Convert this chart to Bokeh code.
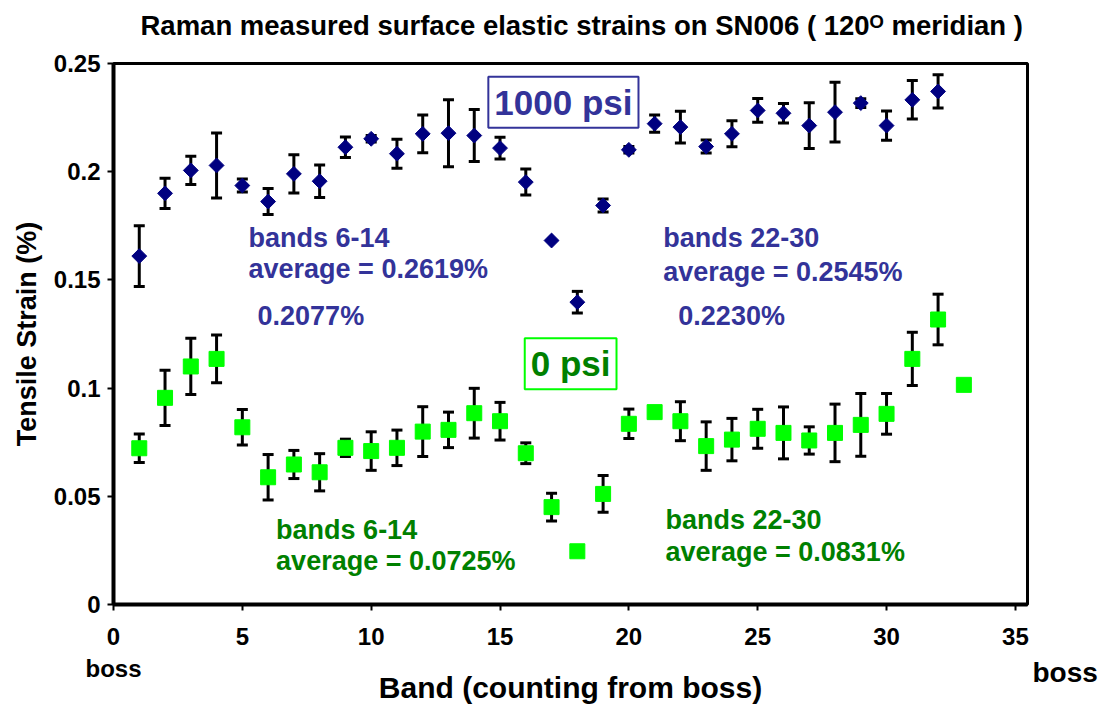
import math
from bokeh.plotting import figure
from bokeh.models import ColumnDataSource, Whisker, TeeHead, Label, FixedTicker, Range1d, LinearAxis
from bokeh.embed import file_html
from bokeh.resources import INLINE

# ---------------- data ----------------
bands_1000 = list(range(1, 33))
strain_1000 = [0.161, 0.190, 0.2006, 0.2029, 0.1936, 0.1862, 0.1990, 0.1956, 0.2113, 0.2152,
               0.2083, 0.2175, 0.2178, 0.2167, 0.2109, 0.1952, 0.1682, 0.1397, 0.1844, 0.2101,
               0.2222, 0.2206, 0.2116, 0.2175, 0.2283, 0.2270, 0.2213, 0.2275, 0.2317, 0.2213,
               0.2332, 0.2371]
err_1000 = [0.014, 0.007, 0.0065, 0.015, 0.003, 0.006, 0.0088, 0.0075, 0.0047, 0.0015,
            0.0067, 0.0087, 0.0155, 0.012, 0.005, 0.006, 0.0, 0.005, 0.003, 0.0015,
            0.004, 0.0073, 0.003, 0.006, 0.0055, 0.0045, 0.0106, 0.0138, 0.002, 0.0068,
            0.0089, 0.0077]

bands_0 = list(range(1, 34))
strain_0 = [0.0722, 0.0955, 0.1100, 0.1135, 0.0819, 0.0588, 0.0647, 0.0611, 0.0724, 0.0709,
            0.0724, 0.0799, 0.0807, 0.0884, 0.0847, 0.0699, 0.0450, 0.0246, 0.0511, 0.0835,
            0.0889, 0.0847, 0.0732, 0.0762, 0.0812, 0.0793, 0.0758, 0.0793, 0.0830, 0.0881,
            0.1135, 0.1317, 0.1015]
err_0 = [0.0066, 0.0128, 0.013, 0.011, 0.0082, 0.0105, 0.0065, 0.0086, 0.004, 0.0089,
         0.0082, 0.0115, 0.0082, 0.0115, 0.0087, 0.0048, 0.0064, 0.0, 0.0085, 0.0068,
         0.002, 0.009, 0.0112, 0.0098, 0.009, 0.012, 0.0063, 0.0133, 0.0145, 0.0094,
         0.0123, 0.0117, 0.0]

x_ticks = [0, 5, 10, 15, 20, 25, 30, 35]
x_tick_labels = ["0\nboss", "5", "10", "15", "20", "25", "30", "35"]
y_ticks = [0, 0.05, 0.1, 0.15, 0.2, 0.25]
y_tick_labels = ["0", "0.05", "0.1", "0.15", "0.2", "0.25"]
right_end_label = "\n\n\n\nboss"

# trailing empty line lifts the title toward the top edge, as in the original
title_text = "Raman measured surface elastic strains on SN006 ( 120\u1d3c meridian )\n"

FONT = "Liberation Sans"
BLUE_TXT = "#333399"
GREEN_TXT = "#008000"

p = figure(width=1104, height=706,
           x_range=Range1d(0, 35.47), y_range=Range1d(0, 0.25),
           output_backend="svg", toolbar_location=None,
           min_border_left=113, min_border_right=77,
           min_border_top=63, min_border_bottom=102)
p.background_fill_color = "white"
p.border_fill_color = "white"
p.xgrid.visible = False
p.ygrid.visible = False
p.outline_line_color = "black"
p.outline_line_width = 3
p.outline_line_alpha = 1.0

p.title.text = title_text
p.title.align = "left"
p.title.offset = 27
p.title.vertical_align = "top"
p.title.text_line_height = 0.55
p.title.standoff = 7
p.title.text_font = FONT
p.title.text_font_style = "bold"
p.title.text_font_size = "27.5px"
p.title.text_color = "black"


def whisker_source(xs, ys, es):
    rows = [(x, y, e) for x, y, e in zip(xs, ys, es) if e > 0]
    return ColumnDataSource(dict(x=[r[0] for r in rows],
                                 upper=[r[1] + r[2] for r in rows],
                                 lower=[r[1] - r[2] for r in rows]))


for xs, ys, es in [(bands_1000, strain_1000, err_1000), (bands_0, strain_0, err_0)]:
    w = Whisker(source=whisker_source(xs, ys, es), base="x", upper="upper", lower="lower",
                line_color="black", line_width=3,
                upper_head=TeeHead(size=11, line_color="black", line_width=3),
                lower_head=TeeHead(size=11, line_color="black", line_width=3))
    p.add_layout(w)

src_1000 = ColumnDataSource(dict(x=bands_1000, y=strain_1000))
src_0 = ColumnDataSource(dict(x=bands_0, y=strain_0))
p.scatter(x="x", y="y", source=src_1000, marker="square", size=10.5, angle=math.pi / 4,
          fill_color="#000080", line_color="#000080", line_width=1)
p.scatter(x="x", y="y", source=src_0, marker="square", size=15,
          fill_color="#00FF00", line_color="#00FF00", line_width=1)

# ---------------- axes ----------------
p.xaxis.ticker = FixedTicker(ticks=x_ticks)
p.xaxis.major_label_overrides = dict(zip(x_ticks, x_tick_labels))
p.yaxis.ticker = FixedTicker(ticks=y_ticks)
p.yaxis.major_label_overrides = dict(zip(y_ticks, y_tick_labels))
for ax in (p.xaxis[0], p.yaxis[0]):
    ax.minor_tick_line_color = None
    ax.major_tick_in = 0
    ax.major_tick_out = 6
    ax.major_tick_line_width = 2
    ax.major_tick_line_color = "black"
    ax.axis_line_width = 4
    ax.axis_line_color = "black"
    ax.major_label_text_font = FONT
    ax.major_label_text_font_style = "bold"
    ax.major_label_text_font_size = "24px"
    ax.major_label_text_color = "black"
    ax.axis_label_text_font = FONT
    ax.axis_label_text_font_style = "bold"
    ax.axis_label_text_color = "black"

p.xaxis.axis_label = "Band (counting from boss)"
p.xaxis.axis_label_text_font_size = "30px"
p.xaxis.major_label_standoff = 12
p.xaxis.axis_label_standoff = -14
p.yaxis.axis_label = "Tensile Strain (%)"
p.yaxis.axis_label_text_font_size = "27px"
p.yaxis.major_label_standoff = 7
p.yaxis.axis_label_standoff = 9

# right-hand "boss" marker label, hung from the y=0 tick of an unlined right axis
right_ax = LinearAxis(ticker=FixedTicker(ticks=[0]),
                      major_label_overrides={0: right_end_label},
                      axis_line_color=None, major_tick_line_color=None,
                      minor_tick_line_color=None, major_tick_out=0, major_tick_in=0,
                      major_label_standoff=5,
                      major_label_text_font=FONT, major_label_text_font_style="bold",
                      major_label_text_font_size="28px", major_label_text_color="black",
                      major_label_text_line_height=1.1)
p.add_layout(right_ax, "right")

# ---------------- annotations ----------------
def lab(x, y, text, color, size, **kw):
    p.add_layout(Label(x=x, y=y, text=text, text_color=color, text_font=FONT,
                       text_font_style="bold", text_font_size=size,
                       text_baseline="bottom", **kw))

# 1000 psi annotations
lab(5.24, 0.1625, "bands 6-14", BLUE_TXT, "27px")
lab(5.24, 0.1480, "average = 0.2619%", BLUE_TXT, "27px")
lab(5.59, 0.1263, "0.2077%", BLUE_TXT, "27px")
lab(21.33, 0.1622, "bands 22-30", BLUE_TXT, "27px")
lab(21.33, 0.1466, "average = 0.2545%", BLUE_TXT, "27px")
lab(21.92, 0.1263, "0.2230%", BLUE_TXT, "27px")

# 0 psi annotations
lab(6.31, 0.0273, "bands 6-14", GREEN_TXT, "27px")
lab(6.31, 0.0131, "average = 0.0725%", GREEN_TXT, "27px")
lab(21.42, 0.0319, "bands 22-30", GREEN_TXT, "27px")
lab(21.42, 0.0172, "average = 0.0831%", GREEN_TXT, "27px")

# boxed series labels
p.add_layout(Label(x=17.46, y=0.2321, text="1000 psi", text_align="center", text_baseline="middle",
                   text_color=BLUE_TXT, text_font=FONT, text_font_style="bold", text_font_size="35px",
                   border_line_color="#333399", border_line_width=2,
                   background_fill_color="white", padding=6))
p.add_layout(Label(x=17.74, y=0.1112, text="0 psi", text_align="center", text_baseline="middle",
                   text_color=GREEN_TXT, text_font=FONT, text_font_style="bold", text_font_size="35px",
                   border_line_color="#00FF00", border_line_width=2,
                   background_fill_color="white", padding=6))

open("out.html", "w").write(file_html(p, INLINE))
